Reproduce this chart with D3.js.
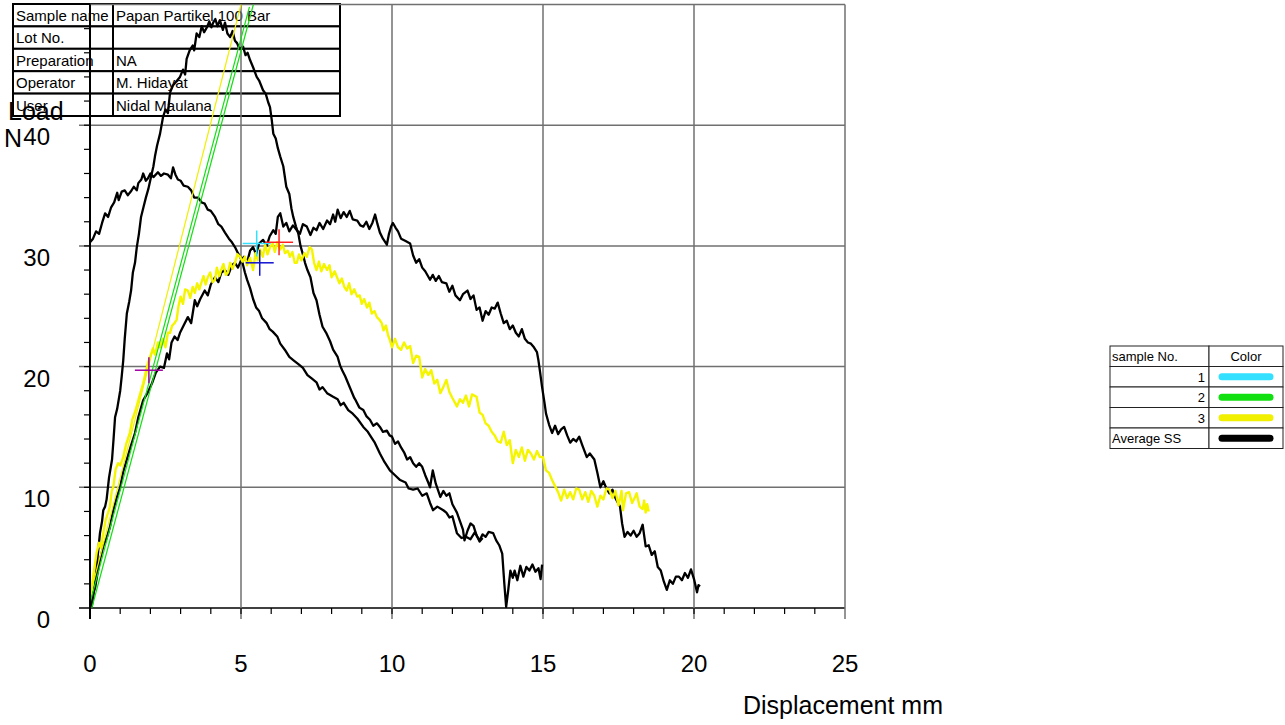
<!DOCTYPE html>
<html lang="en">
<head>
<meta charset="UTF-8">
<script src="https://d3js.org/d3.v7.min.js"></script>
<title>Load - Displacement</title>
<style>
  body { margin: 0; background: #fff; }
  svg text { font-family: "Liberation Sans", Arial, sans-serif; }
</style>
</head>
<body>
<div id="chart"></div>
<script>
// ticks
var xTicks = [0, 5, 10, 15, 20, 25];
var yTicks = [0, 10, 20, 30, 40, 50];

// black curve starting high (~30 N at 0 mm)
var curveA = [[0,30.3],[0.1,30.6],[0.2,31.2],[0.3,31.0],[0.4,31.9],[0.5,32.7],[0.6,32.4],[0.7,33.2],[0.8,33.6],[0.9,34.4],[0.95,33.8],[1.05,34.5],[1.15,34.6],[1.25,34.2],[1.35,34.5],[1.45,34.9],[1.55,34.6],[1.6,35.2],[1.7,35.5],[1.76,36.0],[1.85,35.4],[1.92,35.6],[2.0,36.0],[2.1,35.7],[2.25,36.1],[2.35,35.8],[2.45,36.0],[2.58,35.9],[2.68,35.6],[2.75,36.5],[2.83,35.9],[2.91,35.5],[3.0,35.4],[3.1,35.0],[3.24,34.9],[3.35,34.6],[3.45,34.0],[3.58,34.0],[3.7,33.6],[3.8,33.5],[3.9,33.0],[4.0,32.9],[4.14,32.4],[4.25,31.8],[4.35,31.6],[4.47,31.1],[4.6,30.6],[4.7,30.3],[4.8,29.9],[4.9,29.4],[4.97,29.1],[5.05,28.6],[5.13,27.8],[5.2,27.2],[5.3,26.5],[5.4,25.6],[5.5,24.9],[5.6,24.6],[5.7,24.0],[5.85,23.6],[5.95,23.1],[6.05,22.9],[6.2,22.5],[6.3,21.9],[6.45,21.4],[6.6,20.8],[6.75,20.5],[6.9,20.2],[7.05,19.9],[7.2,19.3],[7.35,19.0],[7.5,18.7],[7.6,18.1],[7.7,18.3],[7.85,17.8],[8.05,17.5],[8.2,17.3],[8.3,16.8],[8.4,17.0],[8.55,16.4],[8.7,16.1],[8.85,15.7],[9.05,15.0],[9.2,14.6],[9.3,14.2],[9.43,13.7],[9.6,12.8],[9.75,12.1],[9.93,11.4],[10.1,11.0],[10.27,10.6],[10.45,10.4],[10.55,9.9],[10.7,9.8],[10.85,9.9],[11.0,9.3],[11.15,9.5],[11.26,8.7],[11.36,8.1],[11.5,8.4],[11.7,8.1],[11.8,7.9],[11.9,7.5],[12.0,7.6],[12.15,6.2],[12.3,5.8],[12.45,5.9],[12.6,5.7],[12.75,6.3],[12.9,5.5],[13.0,5.8]];

// black curve with the tall peak (~48 N)
var curveB = [[0.05,0],[0.1,0.8],[0.17,2.1],[0.25,4.2],[0.33,6.2],[0.4,7.2],[0.44,8.1],[0.5,8.4],[0.55,9.0],[0.63,10.8],[0.73,12.3],[0.78,14.0],[0.83,15.8],[0.9,16.5],[1.0,18.0],[1.05,19.2],[1.1,20.5],[1.15,22.3],[1.22,24.4],[1.3,25.4],[1.36,26.3],[1.42,27.8],[1.49,28.6],[1.55,29.9],[1.62,31.0],[1.69,32.4],[1.77,33.2],[1.85,34.0],[1.93,34.7],[2.02,35.7],[2.1,36.6],[2.15,37.4],[2.22,38.3],[2.32,39.3],[2.42,40.7],[2.5,41.3],[2.58,41.0],[2.65,42.7],[2.75,43.3],[2.85,43.6],[2.98,44.0],[3.08,44.6],[3.15,44.2],[3.2,45.5],[3.3,46.2],[3.4,46.6],[3.45,46.2],[3.53,47.6],[3.62,47.3],[3.7,48.2],[3.78,47.7],[3.87,48.1],[3.95,48.6],[4.02,48.1],[4.08,48.5],[4.15,48.8],[4.22,48.2],[4.3,48.7],[4.4,47.9],[4.47,48.5],[4.55,47.6],[4.64,47.3],[4.72,47.8],[4.8,47.0],[4.87,46.8],[4.95,46.3],[5.07,46.5],[5.15,45.8],[5.22,46.0],[5.3,45.4],[5.4,44.8],[5.52,44.0],[5.6,43.7],[5.73,42.9],[5.82,42.6],[5.9,41.9],[5.96,41.5],[6.02,40.4],[6.07,39.3],[6.15,38.9],[6.22,38.1],[6.3,37.4],[6.4,36.6],[6.5,34.9],[6.6,34.3],[6.67,33.1],[6.73,32.4],[6.82,31.6],[6.9,31.0],[6.97,30.0],[7.05,29.3],[7.12,28.6],[7.2,28.0],[7.3,27.4],[7.4,26.1],[7.5,25.5],[7.6,24.3],[7.7,23.3],[7.82,22.8],[7.95,22.1],[8.05,21.4],[8.2,20.8],[8.28,20.1],[8.35,19.7],[8.45,19.2],[8.55,18.6],[8.65,18.0],[8.75,17.4],[8.8,17.2],[8.92,16.6],[9.05,16.4],[9.15,15.9],[9.27,15.6],[9.38,15.1],[9.5,15.3],[9.6,15.0],[9.7,14.6],[9.83,14.7],[9.92,14.3],[10.0,14.2],[10.1,13.6],[10.2,13.8],[10.3,13.3],[10.4,12.9],[10.5,12.3],[10.6,12.5],[10.7,12.0],[10.8,11.7],[10.9,12.0],[11.0,11.7],[11.1,11.0],[11.2,10.4],[11.26,10.0],[11.35,11.4],[11.45,10.3],[11.6,9.2],[11.7,9.7],[11.8,9.3],[11.9,9.5],[12.0,8.6],[12.15,7.9],[12.25,7.2],[12.35,6.5],[12.4,5.6],[12.5,6.4],[12.6,7.0],[12.7,6.8],[12.8,6.0],[12.9,5.6],[13.0,6.1],[13.1,5.9],[13.2,6.3],[13.35,6.2],[13.45,5.6],[13.55,5.2],[13.65,4.5],[13.72,2.0],[13.78,0.1],[13.85,1.5],[13.92,3.1],[14.0,2.5],[14.06,3.1],[14.15,2.3],[14.25,3.5],[14.35,2.6],[14.45,3.4],[14.55,3.1],[14.65,3.6],[14.75,3.0],[14.85,3.3],[14.92,2.4],[14.97,3.6]];

// black curve with the long ~32 N plateau
var curveC = [[0.0,0],[0.05,0.8],[0.17,1.7],[0.25,2.9],[0.33,4.0],[0.45,5.2],[0.55,5.8],[0.66,6.7],[0.77,8.1],[0.88,9.1],[1.0,10.0],[1.1,11.3],[1.22,12.3],[1.35,13.4],[1.49,14.5],[1.6,15.8],[1.76,17.2],[1.9,17.8],[2.05,18.6],[2.18,19.5],[2.32,20.0],[2.45,19.9],[2.55,21.1],[2.62,20.6],[2.7,22.0],[2.8,22.5],[2.9,22.2],[2.98,22.8],[3.1,23.4],[3.24,24.1],[3.35,23.6],[3.47,25.5],[3.55,25.0],[3.65,25.6],[3.8,26.3],[3.9,25.9],[4.0,26.8],[4.14,27.4],[4.25,27.0],[4.35,27.8],[4.47,28.0],[4.58,27.6],[4.7,28.4],[4.8,28.6],[4.9,28.2],[5.0,28.8],[5.1,29.1],[5.2,28.6],[5.3,29.6],[5.4,29.9],[5.5,29.3],[5.6,30.2],[5.73,30.5],[5.85,30.0],[5.95,30.8],[6.07,31.3],[6.15,31.0],[6.22,32.4],[6.3,32.7],[6.4,31.6],[6.5,31.9],[6.6,31.2],[6.72,31.7],[6.85,31.3],[6.95,31.0],[7.05,31.8],[7.18,31.6],[7.3,30.9],[7.4,31.5],[7.5,31.3],[7.6,31.9],[7.72,31.4],[7.85,32.1],[7.95,31.8],[8.05,32.6],[8.12,32.0],[8.2,33.0],[8.3,32.3],[8.4,32.8],[8.5,32.4],[8.6,32.9],[8.7,32.2],[8.85,32.1],[8.95,31.7],[9.05,31.6],[9.15,32.0],[9.25,31.4],[9.35,31.9],[9.44,32.6],[9.52,31.8],[9.6,31.1],[9.7,30.6],[9.83,30.1],[9.9,31.0],[9.97,31.6],[10.03,31.9],[10.12,31.5],[10.2,31.2],[10.3,30.6],[10.45,30.4],[10.6,30.2],[10.7,29.2],[10.8,28.6],[10.9,28.9],[11.0,28.2],[11.1,27.9],[11.26,27.2],[11.35,27.6],[11.45,27.1],[11.55,27.5],[11.65,27.0],[11.8,26.9],[11.9,26.2],[12.0,26.7],[12.1,25.9],[12.25,25.5],[12.35,26.0],[12.5,26.3],[12.6,25.6],[12.7,25.9],[12.8,24.7],[12.9,24.9],[13.0,23.8],[13.1,24.6],[13.2,24.3],[13.3,24.9],[13.4,24.8],[13.5,25.3],[13.6,24.4],[13.7,23.6],[13.8,23.8],[13.9,23.1],[14.0,23.4],[14.1,22.8],[14.2,22.5],[14.3,23.1],[14.4,22.3],[14.5,22.0],[14.6,21.9],[14.7,21.6],[14.8,21.2],[14.85,20.5],[14.9,19.6],[14.97,18.3],[15.05,17.0],[15.1,16.1],[15.2,15.2],[15.3,14.5],[15.4,15.1],[15.5,14.4],[15.6,14.8],[15.7,15.0],[15.8,14.3],[15.9,13.7],[16.0,14.0],[16.1,13.8],[16.2,14.2],[16.3,13.5],[16.45,12.5],[16.55,12.8],[16.7,12.3],[16.8,11.2],[16.9,10.0],[17.0,10.5],[17.1,9.9],[17.2,9.5],[17.3,9.8],[17.4,9.1],[17.55,8.4],[17.62,7.0],[17.7,5.9],[17.8,6.3],[17.9,6.0],[18.0,6.4],[18.1,5.9],[18.2,6.2],[18.3,6.9],[18.35,6.0],[18.4,5.1],[18.5,5.2],[18.6,4.4],[18.7,4.7],[18.8,3.4],[18.9,3.1],[19.0,2.2],[19.1,1.5],[19.2,2.3],[19.3,2.0],[19.4,2.6],[19.5,2.6],[19.6,2.3],[19.7,2.9],[19.8,2.5],[19.9,3.2],[20.0,2.4],[20.1,1.3],[20.15,1.9],[20.2,1.8]];

// yellow curve (sample 3)
var curveYellow = [[0.0,0.8],[0.05,1.5],[0.12,2.9],[0.22,4.6],[0.3,5.4],[0.36,5.0],[0.44,6.2],[0.52,7.3],[0.6,7.9],[0.66,8.4],[0.72,9.7],[0.77,10.0],[0.85,11.5],[0.93,12.0],[1.0,11.8],[1.1,12.5],[1.2,13.6],[1.32,14.5],[1.4,15.6],[1.5,16.3],[1.6,17.2],[1.68,17.9],[1.76,18.6],[1.85,19.6],[1.92,20.3],[1.99,20.8],[2.08,21.5],[2.15,21.0],[2.25,22.0],[2.32,21.6],[2.42,22.3],[2.5,21.6],[2.58,22.8],[2.65,22.8],[2.72,23.4],[2.8,23.6],[2.87,23.9],[2.93,25.0],[3.0,25.8],[3.08,25.2],[3.15,26.4],[3.24,26.3],[3.32,25.7],[3.4,26.6],[3.47,26.1],[3.55,26.9],[3.62,26.4],[3.68,26.9],[3.76,27.5],[3.83,26.8],[3.9,27.4],[3.98,27.8],[4.06,27.0],[4.14,27.2],[4.2,28.2],[4.28,27.5],[4.34,28.0],[4.42,28.5],[4.5,27.6],[4.57,27.8],[4.64,28.6],[4.72,28.1],[4.8,28.6],[4.88,29.3],[4.97,29.1],[5.05,28.7],[5.13,29.1],[5.2,28.4],[5.3,29.0],[5.4,28.0],[5.48,29.4],[5.56,28.8],[5.63,29.7],[5.72,29.1],[5.8,30.1],[5.88,29.3],[5.96,29.9],[6.05,30.2],[6.12,29.5],[6.2,30.3],[6.3,29.7],[6.38,30.1],[6.46,29.4],[6.55,29.6],[6.62,29.1],[6.7,29.5],[6.78,28.6],[6.85,28.6],[6.92,29.3],[7.0,28.8],[7.1,29.4],[7.18,29.1],[7.27,29.9],[7.35,29.7],[7.42,28.6],[7.5,28.0],[7.58,28.7],[7.66,27.9],[7.75,28.5],[7.85,28.0],[7.93,28.4],[8.0,27.4],[8.1,27.9],[8.18,27.4],[8.26,26.9],[8.34,27.3],[8.42,26.6],[8.5,26.3],[8.58,26.9],[8.66,26.0],[8.75,26.4],[8.85,25.8],[8.93,25.9],[9.0,25.2],[9.08,25.6],[9.17,24.9],[9.25,25.3],[9.33,24.4],[9.42,24.6],[9.5,24.1],[9.58,23.9],[9.66,23.6],[9.72,23.0],[9.8,23.4],[9.87,22.6],[9.93,22.2],[10.0,21.6],[10.1,22.3],[10.2,21.6],[10.3,21.4],[10.4,22.0],[10.5,21.5],[10.6,21.7],[10.7,20.3],[10.8,20.9],[10.9,20.8],[11.0,19.1],[11.1,19.8],[11.2,19.3],[11.3,19.7],[11.4,18.6],[11.5,18.9],[11.6,17.8],[11.7,18.3],[11.8,18.9],[11.9,17.9],[12.0,17.4],[12.15,16.7],[12.25,17.3],[12.35,17.0],[12.45,17.6],[12.55,16.7],[12.65,17.7],[12.8,17.5],[12.9,16.2],[13.0,16.0],[13.1,15.3],[13.2,15.1],[13.3,14.6],[13.4,14.3],[13.5,13.8],[13.6,13.7],[13.7,14.6],[13.8,13.5],[13.9,13.9],[14.0,12.0],[14.1,13.1],[14.2,12.5],[14.3,13.3],[14.4,12.2],[14.5,13.1],[14.6,12.8],[14.7,12.3],[14.8,13.0],[14.9,12.5],[15.0,12.5],[15.1,11.4],[15.2,11.2],[15.3,10.6],[15.4,10.1],[15.5,9.6],[15.6,8.9],[15.7,9.8],[15.8,9.1],[15.9,9.6],[16.0,9.0],[16.1,9.9],[16.2,9.8],[16.3,9.0],[16.4,9.6],[16.5,8.8],[16.6,9.7],[16.7,9.3],[16.8,8.4],[16.9,9.3],[17.0,9.0],[17.1,9.9],[17.2,9.8],[17.3,9.1],[17.4,9.7],[17.5,8.5],[17.6,9.7],[17.65,8.1],[17.75,9.5],[17.85,9.6],[17.95,8.7],[18.05,9.2],[18.1,9.5],[18.2,8.4],[18.3,8.2],[18.35,8.9],[18.4,7.9],[18.45,8.6],[18.5,8.0]];

// straight modulus lines
var fitLines = [
  {color: "#f0f000", pts: [[0, 1.0], [5.0, 50]]},
  {color: "#10e010", pts: [[0, 0.4], [5.28, 49.8]]},
  {color: "#10e010", pts: [[0.06, 0], [5.41, 50]]}
];

// cross markers
var markers = [
  {color: "#33e0ff", x: 5.52, y: 30.2},
  {color: "#1010d0", x: 5.62, y: 28.6},
  {color: "#ff2020", x: 6.26, y: 30.3},
  {color: "#a000a0", x: 1.95, y: 19.7}
];

// info table
var infoLabels = ["Sample name", "Lot No.", "Preparation", "Operator", "User"];
var infoValues = ["Papan Partikel 100 Bar", "", "NA", "M. Hidayat", "Nidal Maulana"];

// legend
var legendNames = ["1", "2", "3", "Average SS"];
var legendColors = ["#33e0ff", "#10e010", "#f0f000", "#000000"];

var W = 1285, H = 725;
var svg = d3.select("#chart").append("svg").attr("width", W).attr("height", H);

var x = d3.scaleLinear().domain([0, 25]).range([90, 845]);
var y = d3.scaleLinear().domain([0, 50]).range([608, 4.5]);

svg.append("clipPath").attr("id", "plotclip")
  .append("rect").attr("x", x(0)).attr("y", y(50)).attr("width", x(25) - x(0)).attr("height", y(0) - y(50));

// tick labels (drawn first: the info table sits over the top one)
svg.selectAll("text.yl").data(yTicks).enter().append("text")
  .attr("x", 50).attr("y", d => y(d) + 20)
  .attr("text-anchor", "end").attr("font-size", 24).text(d => d);
svg.selectAll("text.xl").data(xTicks).enter().append("text")
  .attr("x", d => x(d)).attr("y", 672)
  .attr("text-anchor", "middle").attr("font-size", 24).text(d => d);

// info table
var tx = 13, tw1 = 100, tw2 = 227, th = 22.4, ty = 4;
var info = svg.append("g");
infoLabels.forEach(function(lab, i) {
  info.append("rect").attr("x", tx).attr("y", ty + i * th).attr("width", tw1).attr("height", th)
    .attr("fill", "#fff").attr("stroke", "#000").attr("stroke-width", 2);
  info.append("rect").attr("x", tx + tw1).attr("y", ty + i * th).attr("width", tw2).attr("height", th)
    .attr("fill", "#fff").attr("stroke", "#000").attr("stroke-width", 2);
  info.append("text").attr("x", tx + 3).attr("y", ty + i * th + 17).attr("font-size", 15).text(lab);
  info.append("text").attr("x", tx + tw1 + 3).attr("y", ty + i * th + 17).attr("font-size", 15).text(infoValues[i]);
});

// grid
var grid = svg.append("g");
grid.selectAll("line.h").data(yTicks).enter().append("line")
  .attr("x1", d => d == 50 ? x(0) : x(0) - 11).attr("x2", x(25))
  .attr("y1", d => y(d)).attr("y2", d => y(d))
  .attr("stroke", d => d == 0 ? "#000" : "#707070").attr("stroke-width", 1.5);
grid.selectAll("line.v").data(xTicks).enter().append("line")
  .attr("x1", d => x(d)).attr("x2", d => x(d))
  .attr("y1", y(50)).attr("y2", y(0) + 11)
  .attr("stroke", d => d == 0 ? "#000" : "#707070").attr("stroke-width", 1.5);

// minor ticks
grid.selectAll("line.mx").data(d3.range(1, 25)).enter().append("line")
  .attr("x1", d => x(d)).attr("x2", d => x(d))
  .attr("y1", y(0)).attr("y2", y(0) + 6)
  .attr("stroke", "#000").attr("stroke-width", 1.2);
grid.selectAll("line.my").data(d3.range(2, 50, 2)).enter().append("line")
  .attr("x1", x(0) - 6).attr("x2", x(0))
  .attr("y1", d => y(d)).attr("y2", d => y(d))
  .attr("stroke", "#000").attr("stroke-width", 1.2);

svg.append("text").attr("x", 8).attr("y", 120).attr("font-size", 25).text("Load");
svg.append("text").attr("x", 4).attr("y", 147).attr("font-size", 25).text("N");
svg.append("text").attr("x", 943).attr("y", 714).attr("text-anchor", "end").attr("font-size", 25).text("Displacement mm");

// curves
var line = d3.line().x(d => x(d[0])).y(d => y(d[1]));
var plot = svg.append("g").attr("clip-path", "url(#plotclip)");
[curveA, curveB, curveC].forEach(function(c) {
  plot.append("path").datum(c).attr("d", line)
    .attr("fill", "none").attr("stroke", "#000").attr("stroke-width", 2.3).attr("stroke-linejoin", "round");
});
plot.append("path").datum(curveYellow).attr("d", line)
  .attr("fill", "none").attr("stroke", "#f5f500").attr("stroke-width", 2.4).attr("stroke-linejoin", "round");

fitLines.forEach(function(f) {
  plot.append("path").datum(f.pts).attr("d", line)
    .attr("fill", "none").attr("stroke", f.color).attr("stroke-width", 1.2);
});

var mk = svg.selectAll("g.mk").data(markers).enter().append("g");
mk.append("line").attr("x1", d => x(d.x) - 14).attr("x2", d => x(d.x) + 14)
  .attr("y1", d => y(d.y)).attr("y2", d => y(d.y)).attr("stroke", d => d.color).attr("stroke-width", 1.5);
mk.append("line").attr("x1", d => x(d.x)).attr("x2", d => x(d.x))
  .attr("y1", d => y(d.y) - 13).attr("y2", d => y(d.y) + 13).attr("stroke", d => d.color).attr("stroke-width", 1.5);

// left axis line over grid
svg.append("line").attr("x1", x(0)).attr("x2", x(0)).attr("y1", y(50)).attr("y2", y(0) + 11)
  .attr("stroke", "#000").attr("stroke-width", 2);

// legend table
var lx = 1110, lw1 = 99, lw2 = 74, lh = 20.5, ly = 346;
var leg = svg.append("g");
var rows = ["sample No."].concat(legendNames);
rows.forEach(function(r, i) {
  leg.append("rect").attr("x", lx).attr("y", ly + i * lh).attr("width", lw1).attr("height", lh)
    .attr("fill", "#fff").attr("stroke", "#222").attr("stroke-width", 1);
  leg.append("rect").attr("x", lx + lw1).attr("y", ly + i * lh).attr("width", lw2).attr("height", lh)
    .attr("fill", "#fff").attr("stroke", "#222").attr("stroke-width", 1);
  var isNum = i > 0 && i < 4;
  leg.append("text").attr("x", isNum ? lx + lw1 - 4 : lx + 2).attr("y", ly + i * lh + 15)
    .attr("text-anchor", isNum ? "end" : "start").attr("font-size", 13).text(r);
});
leg.append("text").attr("x", lx + lw1 + lw2 / 2).attr("y", ly + 15).attr("text-anchor", "middle")
  .attr("font-size", 13).text("Color");
leg.selectAll("line.sw").data(legendColors).enter().append("line")
  .attr("x1", lx + lw1 + 13).attr("x2", lx + lw1 + 61)
  .attr("y1", (d, i) => ly + (i + 1) * lh + lh / 2).attr("y2", (d, i) => ly + (i + 1) * lh + lh / 2)
  .attr("stroke", d => d).attr("stroke-width", 7).attr("stroke-linecap", "round");
</script>
</body>
</html>
